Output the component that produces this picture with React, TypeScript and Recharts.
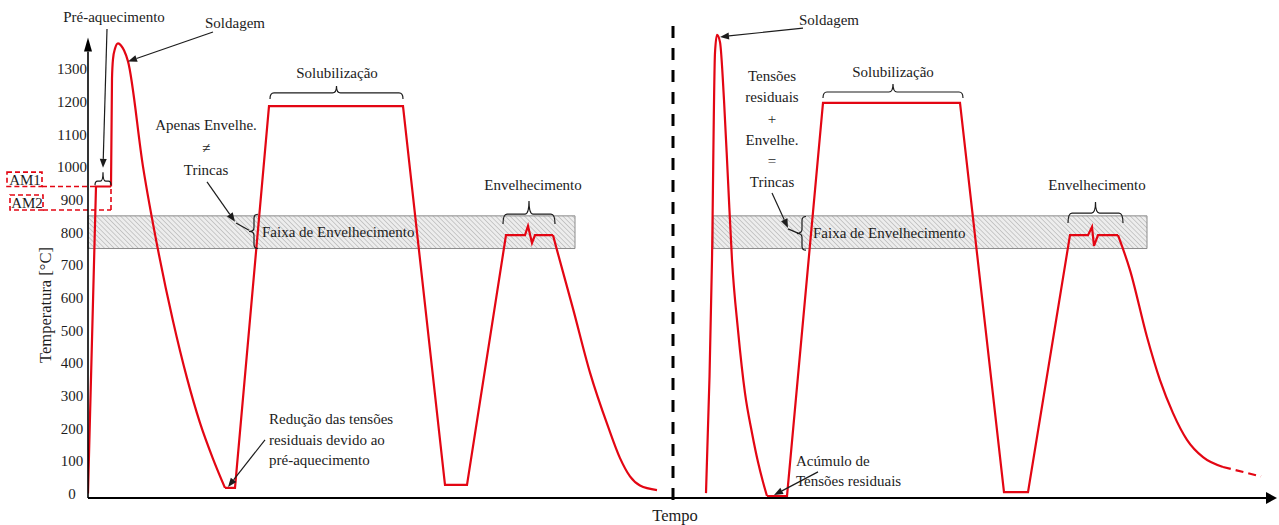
import React from 'react';
import { LineChart, Line, XAxis, YAxis, ReferenceLine, ReferenceArea, ReferenceDot } from 'recharts';

const W = 1279;
const H = 525;
const RED = '#e30613';
const INK = '#1c1c1c';
const FONT = '"Liberation Serif", "Times New Roman", serif';

// Temperature axis (°C)
const tempTicks = [0, 100, 200, 300, 400, 500, 600, 700, 800, 900, 1000, 1100, 1200, 1300];

// Cycle with preheating (AM1 / AM2): preheat ramp and hold
const preT = [0, 8, 23];
const preV = [0, 940, 940];
// welding jump, peak and cooling
const weldAT = [23, 24, 25, 27, 30, 33, 36, 40, 55, 70, 85, 99, 112, 125, 137];
const weldAV = [940, 1270, 1330, 1362, 1378, 1372, 1357, 1323, 1001, 746, 528, 353, 216, 106, 17];
// solution annealing and aging
const heatAT = [137, 147, 181, 315, 357, 379, 418, 437, 440, 444, 447, 465];
const heatAV = [17, 17, 1186, 1186, 26, 26, 791, 791, 819, 767, 791, 791];
const coolAT = [465, 469, 485, 502, 520, 532, 542, 552, 569];
const coolAV = [791, 745, 566, 370, 205, 108, 52, 24, 10];

// Cycle without preheating
const weldBT = [618, 624, 627, 629, 632, 636, 640, 644, 650, 657, 664, 670, 675, 679];
const weldBV = [1, 715, 1349, 1404, 1382, 1205, 960, 715, 500, 307, 185, 96, 35, -8];
const heatBT = [679, 699, 735, 872, 916, 940, 982, 1000, 1004, 1006, 1010, 1030];
const heatBV = [-8, -8, 1196, 1196, 4, 4, 791, 791, 816, 758, 791, 791];
const coolBT = [1030, 1042, 1059, 1072, 1085, 1099, 1115, 1135];
const coolBV = [791, 684, 479, 347, 246, 164, 111, 81];
const tailBT = [1135, 1173];
const tailBV = [81, 52];

// Aging temperature range and preheat levels
const agingRange = [750, 850];
const am1Level = 940;
const am2Level = 868;

const zip = (ts: number[], vs: number[]) => ts.map((t, i) => ({ t, v: vs[i] }));

const TempTick = (p: any) => (
  <text x={p.x - 8} y={p.y} dy="0.36em" textAnchor="middle" fontFamily={FONT} fontSize={15} fill={INK}>
    {p.payload.value}
  </text>
);

type TxtOpts = { size?: number; anchor?: 'start' | 'middle' | 'end'; lh?: number; angle?: number };
const txt = (lines: string[], o: TxtOpts = {}) => (p: any) => {
  const { cx, cy } = p;
  if (cx == null || cy == null) return <g />;
  const size = o.size ?? 15;
  const lh = o.lh ?? 21;
  const anchor = o.anchor ?? 'middle';
  const y0 = cy - ((lines.length - 1) * lh) / 2;
  return (
    <text
      x={cx}
      y={y0}
      fontFamily={FONT}
      fontSize={size}
      fill={INK}
      textAnchor={anchor}
      transform={o.angle ? `rotate(${o.angle} ${cx} ${cy})` : undefined}
    >
      {lines.map((s, i) => (
        <tspan key={i} x={cx} y={y0 + i * lh} dy="0.35em">
          {s}
        </tspan>
      ))}
    </text>
  );
};

const arrow = (head = 9, half = 3.5, width = 1.2, color = INK) => (p: any) => {
  const { x1, y1, x2, y2 } = p;
  if ([x1, y1, x2, y2].some((n) => n == null || Number.isNaN(n))) return <g />;
  const ang = Math.atan2(y2 - y1, x2 - x1);
  const bx = x2 - head * Math.cos(ang);
  const by = y2 - head * Math.sin(ang);
  const nx = -Math.sin(ang) * half;
  const ny = Math.cos(ang) * half;
  return (
    <g>
      <line x1={x1} y1={y1} x2={bx} y2={by} stroke={color} strokeWidth={width} />
      <polygon points={`${x2},${y2} ${bx + nx},${by + ny} ${bx - nx},${by - ny}`} fill={color} />
    </g>
  );
};

const plain = (width = 1.2, color = INK) => (p: any) => (
  <line x1={p.x1} y1={p.y1} x2={p.x2} y2={p.y2} stroke={color} strokeWidth={width} />
);

// horizontal curly brace opening downward, ends at the segment
const braceH = (curl: number, tip: number) => (p: any) => {
  const { x1, x2, y1 } = p;
  if (x1 == null) return <g />;
  const a = Math.min(x1, x2);
  const b = Math.max(x1, x2);
  const m = (a + b) / 2;
  const bar = y1 - curl;
  const top = bar - tip;
  const r = Math.min(4, (b - a) / 6);
  const d = `M${a},${y1} Q${a},${bar} ${a + r},${bar} L${m - r},${bar} Q${m},${bar} ${m},${top} M${m},${top} Q${m},${bar} ${m + r},${bar} L${b - r},${bar} Q${b},${bar} ${b},${y1}`;
  return <path d={d} fill="none" stroke={INK} strokeWidth={1.2} />;
};

// vertical curly brace pointing left, ends at the segment
const braceV = (curl: number, tip: number) => (p: any) => {
  const { x1, y1, y2 } = p;
  if (x1 == null) return <g />;
  const a = Math.min(y1, y2);
  const b = Math.max(y1, y2);
  const m = (a + b) / 2;
  const bar = x1 - curl;
  const tx = bar - tip;
  const r = Math.min(4, (b - a) / 6);
  const d = `M${x1},${a} Q${bar},${a} ${bar},${a + r} L${bar},${m - r} Q${bar},${m} ${tx},${m} M${tx},${m} Q${bar},${m} ${bar},${m + r} L${bar},${b - r} Q${bar},${b} ${x1},${b}`;
  return <path d={d} fill="none" stroke={INK} strokeWidth={1.2} />;
};

const V = 'visible' as const;

export default function App() {
  const redLine = { stroke: RED, strokeWidth: 2.2, dot: false, isAnimationActive: false, dataKey: 'v' };
  return (
    <div style={{ position: 'absolute', left: 0, top: 0, width: W, height: H, background: '#fff' }}>
      <LineChart width={W} height={H} margin={{ top: 33, right: 9, bottom: 27, left: 0 }}>
        <defs>
          <pattern id="agingHatch" width="3.4" height="3.4" patternUnits="userSpaceOnUse" patternTransform="rotate(-45)">
            <rect width="3.4" height="3.4" fill="#ededed" />
            <line x1="0" y1="0" x2="0" y2="3.4" stroke="#ababab" strokeWidth="1.1" />
          </pattern>
        </defs>
        <XAxis type="number" dataKey="t" domain={[0, 1182]} allowDataOverflow hide />
        <YAxis
          type="number"
          domain={[-14, 1410]}
          allowDataOverflow
          ticks={tempTicks}
          interval={0}
          width={88}
          axisLine={false}
          tickLine={false}
          tick={TempTick}
        />

        {/* aging range bands */}
        <ReferenceArea x1={0} x2={487} y1={agingRange[0]} y2={agingRange[1]} ifOverflow={V}
          fill="url(#agingHatch)" fillOpacity={1} stroke="#8c8c8c" strokeWidth={1} />
        <ReferenceArea x1={625} x2={1059} y1={agingRange[0]} y2={agingRange[1]} ifOverflow={V}
          fill="url(#agingHatch)" fillOpacity={1} stroke="#8c8c8c" strokeWidth={1} />

        {/* preheat levels AM1 / AM2 */}
        <ReferenceArea x1={-81} x2={-46} y1={am1Level} y2={984} ifOverflow={V}
          fill="none" stroke={RED} strokeWidth={1.6} strokeDasharray="5 3" />
        <ReferenceArea x1={-78} x2={-45} y1={am2Level} y2={914} ifOverflow={V}
          fill="none" stroke={RED} strokeWidth={1.6} strokeDasharray="5 3" />
        <ReferenceLine segment={[{ x: -46, y: am1Level }, { x: 8, y: am1Level }]} ifOverflow={V}
          stroke={RED} strokeWidth={1.6} strokeDasharray="5 3" />
        <ReferenceLine segment={[{ x: -45, y: am2Level }, { x: 23, y: am2Level }]} ifOverflow={V}
          stroke={RED} strokeWidth={1.6} strokeDasharray="5 3" />
        <ReferenceLine segment={[{ x: 23, y: am2Level }, { x: 23, y: am1Level }]} ifOverflow={V}
          stroke={RED} strokeWidth={1.6} strokeDasharray="5 3" />

        {/* thermal cycles */}
        <Line data={zip(preT, preV)} type="linear" {...redLine} />
        <Line data={zip(weldAT, weldAV)} type="monotone" {...redLine} />
        <Line data={zip(heatAT, heatAV)} type="linear" {...redLine} />
        <Line data={zip(coolAT, coolAV)} type="monotone" {...redLine} />
        <Line data={zip(weldBT, weldBV)} type="monotone" {...redLine} />
        <Line data={zip(heatBT, heatBV)} type="linear" {...redLine} />
        <Line data={zip(coolBT, coolBV)} type="monotone" {...redLine} />
        <Line data={zip(tailBT, tailBV)} type="linear" {...redLine} strokeDasharray="8 5" />

        {/* axes with arrowheads */}
        <ReferenceLine segment={[{ x: 0, y: -14 }, { x: 0, y: 1396 }]} ifOverflow={V} shape={arrow(14, 4, 1.6, '#000')} />
        <ReferenceLine segment={[{ x: 0, y: -14 }, { x: 1189, y: -14 }]} ifOverflow={V} shape={arrow(11, 6, 2.2, '#000')} />

        {/* separator */}
        <ReferenceLine segment={[{ x: 585, y: -20 }, { x: 585, y: 1443 }]} ifOverflow={V}
          stroke="#000" strokeWidth={3} strokeDasharray="12 10" />

        {/* braces */}
        <ReferenceLine segment={[{ x: 7, y: 944 }, { x: 23, y: 944 }]} ifOverflow={V} shape={braceH(4, 9)} />
        <ReferenceLine segment={[{ x: 182, y: 1208 }, { x: 315, y: 1208 }]} ifOverflow={V} shape={braceH(6, 7)} />
        <ReferenceLine segment={[{ x: 415, y: 825 }, { x: 467, y: 825 }]} ifOverflow={V} shape={braceH(10, 13)} />
        <ReferenceLine segment={[{ x: 735, y: 1211 }, { x: 875, y: 1211 }]} ifOverflow={V} shape={braceH(6, 8)} />
        <ReferenceLine segment={[{ x: 980, y: 828 }, { x: 1035, y: 828 }]} ifOverflow={V} shape={braceH(10, 11)} />
        <ReferenceLine segment={[{ x: 170, y: 855 }, { x: 170, y: 750 }]} ifOverflow={V} shape={braceV(4, 5)} />
        <ReferenceLine segment={[{ x: 718, y: 848 }, { x: 718, y: 745 }]} ifOverflow={V} shape={braceV(4, 5)} />

        {/* annotation arrows */}
        <ReferenceLine segment={[{ x: 19, y: 1422 }, { x: 15, y: 997 }]} ifOverflow={V} shape={arrow()} />
        <ReferenceLine segment={[{ x: 125, y: 1413 }, { x: 40, y: 1323 }]} ifOverflow={V} shape={arrow()} />
        <ReferenceLine segment={[{ x: 119, y: 954 }, { x: 147, y: 832 }]} ifOverflow={V} shape={arrow()} />
        <ReferenceLine segment={[{ x: 148, y: 828 }, { x: 161, y: 806 }]} ifOverflow={V} shape={plain()} />
        <ReferenceLine segment={[{ x: 177, y: 164 }, { x: 140, y: 20 }]} ifOverflow={V} shape={arrow()} />
        <ReferenceLine segment={[{ x: 715, y: 1425 }, { x: 632, y: 1398 }]} ifOverflow={V} shape={arrow()} />
        <ReferenceLine segment={[{ x: 684, y: 920 }, { x: 700, y: 813 }]} ifOverflow={V} shape={arrow()} />
        <ReferenceLine segment={[{ x: 700, y: 810 }, { x: 710, y: 797 }]} ifOverflow={V} shape={plain()} />
        <ReferenceLine segment={[{ x: 730, y: 66 }, { x: 686, y: -5 }]} ifOverflow={V} shape={arrow()} />

        {/* texts */}
        <ReferenceDot x={26} y={1459} ifOverflow={V} shape={txt(['Pré-aquecimento'])} />
        <ReferenceDot x={147} y={1441} ifOverflow={V} shape={txt(['Soldagem'])} />
        <ReferenceDot x={-63} y={960} ifOverflow={V} shape={txt(['AM1'])} />
        <ReferenceDot x={-61} y={891} ifOverflow={V} shape={txt(['AM2'])} />
        <ReferenceDot x={249} y={1287} ifOverflow={V} shape={txt(['Solubilização'])} />
        <ReferenceDot x={118} y={1059} ifOverflow={V} shape={txt(['Apenas Envelhe.', '≠', 'Trincas'], { lh: 22.5 })} />
        <ReferenceDot x={174} y={800} ifOverflow={V} shape={txt(['Faixa de Envelhecimento'], { anchor: 'start' })} />
        <ReferenceDot x={445} y={945} ifOverflow={V} shape={txt(['Envelhecimento'])} />
        <ReferenceDot x={181} y={165} ifOverflow={V}
          shape={txt(['Redução das tensões', 'residuais devido ao', 'pré-aquecimento'], { anchor: 'start', lh: 20.5 })} />
        <ReferenceDot x={741} y={1450} ifOverflow={V} shape={txt(['Soldagem'])} />
        <ReferenceDot x={684} y={1116} ifOverflow={V}
          shape={txt(['Tensões', 'residuais', '+', 'Envelhe.', '=', 'Trincas'], { lh: 21.2 })} />
        <ReferenceDot x={805} y={1290} ifOverflow={V} shape={txt(['Solubilização'])} />
        <ReferenceDot x={725} y={797} ifOverflow={V} shape={txt(['Faixa de Envelhecimento'], { anchor: 'start' })} />
        <ReferenceDot x={1009} y={945} ifOverflow={V} shape={txt(['Envelhecimento'])} />
        <ReferenceDot x={708} y={69} ifOverflow={V} shape={txt(['Acúmulo de', 'Tensões residuais'], { anchor: 'start', lh: 20 })} />
        <ReferenceDot x={587} y={-66} ifOverflow={V} shape={txt(['Tempo'], { size: 16.5 })} />
        <ReferenceDot x={-43} y={577} ifOverflow={V} shape={txt(['Temperatura [°C]'], { size: 16.5, angle: -90 })} />
      </LineChart>
    </div>
  );
}
